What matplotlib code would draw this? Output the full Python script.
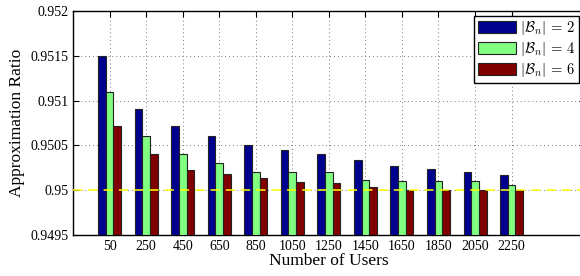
import numpy as np
import matplotlib
matplotlib.use("Agg")
import matplotlib.pyplot as plt

plt.rcParams['font.family'] = ['Liberation Serif', 'DejaVu Serif']
plt.rcParams['mathtext.fontset'] = 'cm'

# data
users = ['50', '250', '450', '650', '850', '1050', '1250', '1450', '1650', '1850', '2050', '2250']
ratio_b2 = [0.9515, 0.95091, 0.95072, 0.9506, 0.9505, 0.95045, 0.9504, 0.95034, 0.95027, 0.95024, 0.9502, 0.95017]
ratio_b4 = [0.9511, 0.9506, 0.9504, 0.9503, 0.9502, 0.9502, 0.9502, 0.95011, 0.9501, 0.9501, 0.9501, 0.95006]
ratio_b6 = [0.95072, 0.9504, 0.95022, 0.95018, 0.95014, 0.95009, 0.95008, 0.95004, 0.95, 0.95, 0.95, 0.95]
labels = [r'$|\mathcal{B}_n|\,=\,2$', r'$|\mathcal{B}_n|\,=\,4$', r'$|\mathcal{B}_n|\,=\,6$']
colors = ['#00008F', '#80FF80', '#800000']

fig = plt.figure(figsize=(5.8, 2.76), dpi=100)
ax = fig.add_axes([0.126, 0.149, 0.882, 0.811])

x = np.arange(1, len(users) + 1)
w = 0.21
for i, (vals, lab, c) in enumerate(zip([ratio_b2, ratio_b4, ratio_b6], labels, colors)):
    ax.bar(x + (i - 1) * w, np.array(vals) - 0.9495, bottom=0.9495, width=w,
           color=c, edgecolor='#222222', linewidth=0.8, label=lab, zorder=3)

ax.axhline(0.95, color='#FFFF00', linewidth=1.1, dashes=(6, 4), zorder=4)

ax.set_xlim(0, 14)
ax.set_ylim(0.9495, 0.952)
ax.set_xticks(x)
ax.set_xticklabels(users)
ax.set_yticks([0.9495, 0.95, 0.9505, 0.951, 0.9515, 0.952])
ax.set_yticklabels(['0.9495', '0.95', '0.9505', '0.951', '0.9515', '0.952'])
ax.tick_params(direction='in', top=True, right=True, labelsize=10, length=4, width=0.8)
ax.grid(True, linestyle=(0, (1, 3)), color='#777777', linewidth=0.7, zorder=0)
ax.set_axisbelow(True)
for s in ax.spines.values():
    s.set_linewidth(1.0)

ax.set_xlabel('Number of Users', fontsize=12.5, labelpad=0)
ax.set_ylabel('Approximation Ratio', fontsize=12.5, labelpad=4)

leg = ax.legend(loc='upper right', bbox_to_anchor=(0.998, 0.943), bbox_transform=fig.transFigure,
                fontsize=10.5, frameon=True, fancybox=False, framealpha=1, edgecolor='k',
                borderpad=0.25, labelspacing=0.2, handlelength=2.6, handleheight=0.9,
                handletextpad=0.3, borderaxespad=0)
leg.get_frame().set_linewidth(1.0)

fig.savefig('out.png', dpi=100)
